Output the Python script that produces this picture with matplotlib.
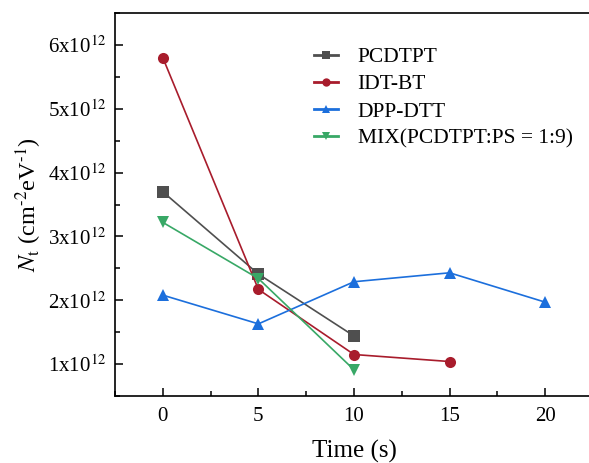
import matplotlib
matplotlib.use("Agg")
import matplotlib.pyplot as plt
from matplotlib.ticker import MultipleLocator, FuncFormatter

plt.rcParams['font.family'] = ['Liberation Serif', 'DejaVu Serif']
plt.rcParams['mathtext.fontset'] = 'stix'

time_pcdtpt = [0, 5, 10]
nt_pcdtpt = [3.70, 2.41, 1.44]
time_idtbt = [0, 5, 10, 15]
nt_idtbt = [5.80, 2.17, 1.15, 1.04]
time_dpp = [0, 5, 10, 15, 20]
nt_dpp = [2.08, 1.63, 2.29, 2.43, 1.97]
time_mix = [0, 5, 10]
nt_mix = [3.22, 2.34, 0.91]
scale = 1e12

labels = ['PCDTPT', 'IDT-BT', 'DPP-DTT', 'MIX(PCDTPT:PS = 1:9)']
colors = ['#4f4f4f', '#a81c2c', '#1c6fdc', '#38a866']
markers = ['s', 'o', '^', 'v']

fig = plt.figure(figsize=(5.89, 4.63), dpi=100)
ax = fig.add_axes([115/589, 1-396/463, 478/589, 383/463])

series = [(time_pcdtpt, nt_pcdtpt), (time_idtbt, nt_idtbt), (time_dpp, nt_dpp), (time_mix, nt_mix)]
for (t, v), lab, c, m in zip(series, labels, colors, markers):
    ax.plot(t, [x * scale for x in v], color=c, marker=m, markersize=8, lw=1.2, label=lab,
            markeredgewidth=0)

ax.set_xlim(-2.5, 22.5)
ax.set_ylim(0.5e12, 6.5e12)
ax.xaxis.set_major_locator(MultipleLocator(5))
ax.xaxis.set_minor_locator(MultipleLocator(2.5))
ax.yaxis.set_major_locator(MultipleLocator(1e12))
ax.yaxis.set_minor_locator(MultipleLocator(0.5e12))
ax.yaxis.set_major_formatter(FuncFormatter(lambda v, p: r'%dx10$^{12}$' % round(v / 1e12)))
ax.tick_params(which='both', direction='in', labelsize=15, right=False, top=False)
ax.tick_params(which='major', length=6, width=1.1)
ax.tick_params(which='minor', length=3.5, width=1.1)
ax.tick_params(axis='x', pad=8)
ax.tick_params(axis='y', pad=6)
for s in ax.spines.values():
    s.set_linewidth(1.2)
ax.spines['right'].set_visible(False)

ax.set_xlabel('Time (s)', fontsize=18, labelpad=10)
ax.set_ylabel(r'$N_{\rm t}$ (cm$^{\text{-}2}$eV$^{\text{-}1}$)', fontsize=17.5, labelpad=3)

leg = ax.legend(loc='upper left', bbox_to_anchor=(0.416, 0.911), frameon=False, fontsize=15.5,
                handlelength=1.1, handletextpad=0.93, labelspacing=0.33, markerscale=0.75,
                borderpad=0, borderaxespad=0)
for h in leg.legend_handles:
    h.set_linewidth(2.0)

fig.savefig('out.png', dpi=100)
